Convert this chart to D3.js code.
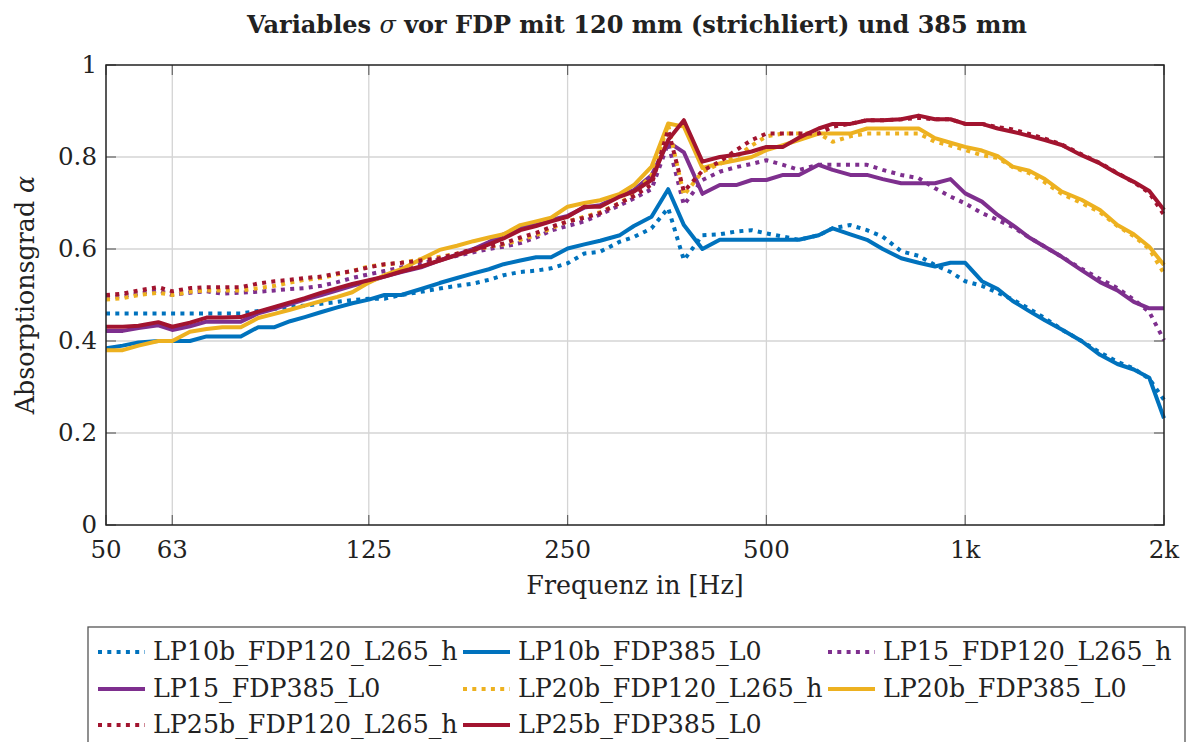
<!DOCTYPE html>
<html>
<head>
<meta charset="utf-8">
<script src="https://cdn.jsdelivr.net/npm/d3@7"></script>
<style>
  html, body { margin: 0; padding: 0; background: #fff; }
  svg { display: block; }
  text { font-family: "DejaVu Serif", serif; fill: #222; }
</style>
</head>
<body>
<svg id="chart" width="1197" height="742"></svg>
<script>
// 1/12-octave band centre frequencies (Hz)
const freqs = [50, 53, 56, 60, 63, 67, 71, 75, 80, 85, 90, 95, 100, 106, 112, 118,
  125, 132, 140, 150, 160, 170, 180, 190, 200, 212, 224, 236, 250, 265, 280, 300,
  315, 335, 355, 375, 400, 425, 450, 475, 500, 530, 560, 600, 630, 670, 710, 750,
  800, 850, 900, 950, 1000, 1060, 1120, 1180, 1250, 1320, 1400, 1500, 1600, 1700,
  1800, 1900, 2000];

// Absorption coefficients per band
const lp10b_fdp120 = [0.46, 0.46, 0.46, 0.46, 0.46, 0.46, 0.46, 0.46, 0.46, 0.465, 0.47, 0.474, 0.477, 0.481, 0.485, 0.489,
  0.492, 0.492, 0.50, 0.507, 0.514, 0.52, 0.525, 0.533, 0.543, 0.55, 0.553, 0.558, 0.569, 0.59, 0.594, 0.616,
  0.626, 0.645, 0.689, 0.576, 0.63, 0.632, 0.638, 0.641, 0.634, 0.627, 0.62, 0.63, 0.645, 0.652, 0.641, 0.627,
  0.595, 0.585, 0.565, 0.55, 0.53, 0.52, 0.505, 0.49, 0.47, 0.45, 0.425, 0.40, 0.375, 0.355,
  0.34, 0.318, 0.272];
const lp10b_fdp385 = [0.384, 0.39, 0.397, 0.40, 0.40, 0.40, 0.41, 0.41, 0.41, 0.43, 0.43, 0.443, 0.452, 0.463, 0.473, 0.482,
  0.49, 0.50, 0.50, 0.513, 0.526, 0.537, 0.547, 0.556, 0.567, 0.575, 0.582, 0.582, 0.601, 0.61, 0.618, 0.63,
  0.65, 0.67, 0.73, 0.652, 0.60, 0.62, 0.62, 0.62, 0.62, 0.62, 0.62, 0.63, 0.645, 0.632, 0.62, 0.60,
  0.58, 0.57, 0.562, 0.57, 0.57, 0.53, 0.513, 0.487, 0.465, 0.445, 0.425, 0.40, 0.37, 0.35,
  0.338, 0.32, 0.232];
const lp15_fdp120 = [0.495, 0.497, 0.503, 0.51, 0.50, 0.505, 0.508, 0.503, 0.505, 0.507, 0.51, 0.513, 0.515, 0.52, 0.528, 0.537,
  0.545, 0.552, 0.56, 0.568, 0.578, 0.585, 0.593, 0.60, 0.605, 0.613, 0.625, 0.64, 0.65, 0.66, 0.675, 0.695,
  0.71, 0.73, 0.83, 0.696, 0.75, 0.768, 0.778, 0.785, 0.793, 0.783, 0.772, 0.783, 0.783, 0.783, 0.783, 0.772,
  0.761, 0.754, 0.732, 0.714, 0.699, 0.678, 0.663, 0.648, 0.625, 0.605, 0.583, 0.557, 0.535, 0.515,
  0.49, 0.463, 0.402];
const lp15_fdp385 = [0.422, 0.422, 0.428, 0.434, 0.424, 0.432, 0.442, 0.442, 0.442, 0.46, 0.47, 0.48, 0.49, 0.50, 0.51, 0.52,
  0.53, 0.54, 0.55, 0.56, 0.575, 0.588, 0.60, 0.615, 0.632, 0.645, 0.655, 0.663, 0.672, 0.69, 0.695, 0.716,
  0.728, 0.76, 0.833, 0.81, 0.72, 0.739, 0.739, 0.75, 0.75, 0.761, 0.761, 0.783, 0.772, 0.761, 0.761, 0.752,
  0.743, 0.743, 0.743, 0.752, 0.721, 0.703, 0.674, 0.652, 0.625, 0.605, 0.583, 0.554, 0.528, 0.51,
  0.485, 0.471, 0.471];
const lp20b_fdp120 = [0.49, 0.493, 0.50, 0.505, 0.50, 0.507, 0.51, 0.51, 0.51, 0.515, 0.52, 0.527, 0.533, 0.537, 0.545, 0.552,
  0.562, 0.566, 0.57, 0.578, 0.583, 0.59, 0.597, 0.605, 0.61, 0.62, 0.63, 0.645, 0.66, 0.67, 0.68, 0.70,
  0.72, 0.76, 0.87, 0.717, 0.768, 0.785, 0.80, 0.825, 0.845, 0.851, 0.851, 0.851, 0.833, 0.845, 0.851, 0.851,
  0.851, 0.851, 0.833, 0.825, 0.815, 0.804, 0.798, 0.778, 0.765, 0.745, 0.72, 0.70, 0.68, 0.65,
  0.628, 0.60, 0.547];
const lp20b_fdp385 = [0.38, 0.38, 0.39, 0.40, 0.40, 0.42, 0.426, 0.43, 0.43, 0.45, 0.459, 0.468, 0.477, 0.487, 0.496, 0.506,
  0.527, 0.543, 0.556, 0.578, 0.598, 0.607, 0.617, 0.625, 0.632, 0.652, 0.66, 0.668, 0.692, 0.70, 0.706, 0.72,
  0.739, 0.779, 0.873, 0.866, 0.776, 0.786, 0.793, 0.80, 0.815, 0.826, 0.837, 0.851, 0.851, 0.851, 0.862, 0.862,
  0.862, 0.862, 0.841, 0.831, 0.822, 0.814, 0.802, 0.779, 0.77, 0.752, 0.725, 0.707, 0.685, 0.652,
  0.632, 0.605, 0.565];
const lp25b_fdp120 = [0.50, 0.503, 0.51, 0.517, 0.508, 0.515, 0.517, 0.517, 0.517, 0.525, 0.53, 0.533, 0.537, 0.54, 0.547, 0.552,
  0.56, 0.567, 0.57, 0.575, 0.58, 0.59, 0.60, 0.605, 0.612, 0.625, 0.635, 0.648, 0.66, 0.668, 0.678, 0.70,
  0.715, 0.74, 0.859, 0.725, 0.77, 0.79, 0.815, 0.837, 0.851, 0.851, 0.851, 0.851, 0.866, 0.872, 0.88, 0.88,
  0.882, 0.885, 0.882, 0.882, 0.872, 0.872, 0.865, 0.86, 0.85, 0.84, 0.827, 0.806, 0.787, 0.765,
  0.745, 0.722, 0.674];
const lp25b_fdp385 = [0.431, 0.431, 0.433, 0.441, 0.431, 0.44, 0.451, 0.451, 0.452, 0.464, 0.474, 0.484, 0.493, 0.505, 0.515, 0.524,
  0.532, 0.54, 0.551, 0.562, 0.575, 0.587, 0.597, 0.61, 0.623, 0.641, 0.65, 0.66, 0.67, 0.692, 0.692, 0.714,
  0.725, 0.75, 0.837, 0.88, 0.79, 0.80, 0.805, 0.812, 0.822, 0.822, 0.842, 0.862, 0.872, 0.872, 0.88, 0.88,
  0.882, 0.89, 0.882, 0.882, 0.872, 0.872, 0.862, 0.855, 0.846, 0.837, 0.826, 0.804, 0.786, 0.764,
  0.746, 0.726, 0.685];

const seriesNames = ["LP10b_FDP120_L265_h", "LP10b_FDP385_L0", "LP15_FDP120_L265_h", "LP15_FDP385_L0",
  "LP20b_FDP120_L265_h", "LP20b_FDP385_L0", "LP25b_FDP120_L265_h", "LP25b_FDP385_L0"];
const seriesValues = [lp10b_fdp120, lp10b_fdp385, lp15_fdp120, lp15_fdp385,
  lp20b_fdp120, lp20b_fdp385, lp25b_fdp120, lp25b_fdp385];

const xTickValues = [50, 63, 125, 250, 500, 1000, 2000];
const xTickLabels = ["50", "63", "125", "250", "500", "1k", "2k"];
const yTickValues = [0, 0.2, 0.4, 0.6, 0.8, 1];
const yTickLabels = ["0", "0.2", "0.4", "0.6", "0.8", "1"];

(function draw() {
  // Styling
  const colors = ["#0072BD", "#0072BD", "#7E2F8E", "#7E2F8E", "#EDB120", "#EDB120", "#A2142F", "#A2142F"];
  const dotted = [true, false, true, false, true, false, true, false];
  const LW = 4;
  const DOT = "4 5.3";
  const FS = 24.5;      // tick labels
  const FS_LAB = 25.3;  // axis titles and legend entries

  const svg = d3.select("#chart");
  const pL = 106, pR = 1164, pT = 65, pB = 525;

  const x = d3.scaleLog().domain([50, 2000]).range([pL, pR]);
  const y = d3.scaleLinear().domain([0, 1]).range([pB, pT]);

  svg.append("rect").attr("width", 1197).attr("height", 742).attr("fill", "#fff");

  // grid
  const grid = svg.append("g").attr("stroke", "#d4d4d4").attr("stroke-width", 1.3);
  xTickValues.slice(1, -1).forEach(v => grid.append("line")
    .attr("x1", x(v)).attr("x2", x(v)).attr("y1", pT).attr("y2", pB));
  yTickValues.slice(1, -1).forEach(v => grid.append("line")
    .attr("x1", pL).attr("x2", pR).attr("y1", y(v)).attr("y2", y(v)));

  // ticks (inside, all four sides)
  const tk = svg.append("g").attr("stroke", "#666").attr("stroke-width", 1.2);
  yTickValues.forEach(v => {
    tk.append("line").attr("x1", pL).attr("x2", pL + 10).attr("y1", y(v)).attr("y2", y(v));
    tk.append("line").attr("x1", pR - 10).attr("x2", pR).attr("y1", y(v)).attr("y2", y(v));
  });
  xTickValues.forEach(v => {
    tk.append("line").attr("x1", x(v)).attr("x2", x(v)).attr("y1", pB).attr("y2", pB - 10);
    tk.append("line").attr("x1", x(v)).attr("x2", x(v)).attr("y1", pT).attr("y2", pT + 10);
  });

  // data lines
  svg.append("clipPath").attr("id", "plotclip").append("rect")
    .attr("x", pL).attr("y", pT - 5).attr("width", pR - pL + 3).attr("height", pB - pT + 10);
  const line = d3.line().x((d, i) => x(freqs[i])).y(d => y(d));
  const plot = svg.append("g").attr("clip-path", "url(#plotclip)");
  seriesValues.forEach((vals, k) => {
    plot.append("path").attr("d", line(vals))
      .attr("fill", "none").attr("stroke", colors[k]).attr("stroke-width", LW)
      .attr("stroke-linejoin", "round")
      .attr("stroke-dasharray", dotted[k] ? DOT : null);
  });

  // frame
  svg.append("rect").attr("x", pL).attr("y", pT).attr("width", pR - pL).attr("height", pB - pT)
    .attr("fill", "none").attr("stroke", "#222").attr("stroke-width", 1.5);

  // tick labels
  svg.append("g").selectAll("text").data(yTickValues).join("text")
    .attr("x", pL - 9).attr("y", d => y(d) + 8).attr("text-anchor", "end")
    .attr("font-size", FS).text((d, i) => yTickLabels[i]);
  svg.append("g").selectAll("text").data(xTickValues).join("text")
    .attr("x", d => x(d)).attr("y", pB + 33).attr("text-anchor", "middle")
    .attr("font-size", FS).text((d, i) => xTickLabels[i]);

  // axis titles
  svg.append("text").attr("x", (pL + pR) / 2).attr("y", 594).attr("text-anchor", "middle")
    .attr("font-size", FS_LAB).attr("fill", "#444").text("Frequenz in [Hz]");
  const yl = svg.append("text").attr("transform", `translate(34,${(pT + pB) / 2}) rotate(-90)`)
    .attr("text-anchor", "middle").attr("font-size", FS_LAB).attr("fill", "#444");
  yl.append("tspan").text("Absorptionsgrad ");
  yl.append("tspan").attr("font-style", "italic").text("α");

  // title
  const tt = svg.append("text").attr("x", 637).attr("y", 33).attr("text-anchor", "middle")
    .attr("font-size", 24).attr("font-weight", "bold");
  tt.append("tspan").text("Variables ");
  tt.append("tspan").attr("font-style", "italic").attr("font-weight", "normal").text("σ");
  tt.append("tspan").text(" vor FDP mit 120 mm (strichliert) und 385 mm");

  // legend
  const lg = svg.append("g");
  lg.append("rect").attr("x", 88).attr("y", 627).attr("width", 1097).attr("height", 140)
    .attr("fill", "#fff").attr("stroke", "#555").attr("stroke-width", 1.3);
  const colX = [98, 463, 828];
  const rowY = [652, 689, 725];
  seriesNames.forEach((name, k) => {
    const cx = colX[k % 3], cy = rowY[Math.floor(k / 3)];
    lg.append("line").attr("x1", cx).attr("x2", cx + 47).attr("y1", cy).attr("y2", cy)
      .attr("stroke", colors[k]).attr("stroke-width", LW)
      .attr("stroke-dasharray", dotted[k] ? DOT : null);
    lg.append("text").attr("x", cx + 55).attr("y", cy + 8).attr("font-size", FS_LAB).text(name);
  });
})();
</script>
</body>
</html>
